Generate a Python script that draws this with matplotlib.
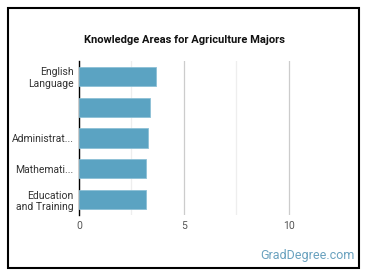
import numpy as np
import matplotlib.pyplot as plt
from matplotlib.patches import Rectangle

categories = ["English\nLanguage", "", "Administrat...", "Mathemati...", "Education\nand Training"]
values = [3.67, 3.38, 3.29, 3.19, 3.19]
xticks = [0, 5, 10]

W, H = 370, 278
fig = plt.figure(figsize=(W / 100, H / 100), dpi=100)
plt.rcParams['font.family'] = ['Roboto', 'DejaVu Sans']

# outer frame
fig.patches.append(Rectangle((8 / W, 1 - 268 / H), 351 / W, 260 / H, transform=fig.transFigure,
                             fill=False, edgecolor='black', linewidth=1.5))

ax = fig.add_axes([79 / W, 1 - 215 / H, (341 - 79) / W, (215 - 61) / H])
y = np.arange(len(categories))
ax.barh(y, values, height=0.62, color='#5ba3c2', edgecolor='#8cc0d6', linewidth=0.6, zorder=3)
ax.set_ylim(len(categories) - 0.5, -0.5)
ax.set_xlim(0, 12.5)
ax.set_yticks(y)
ax.set_yticklabels(categories, fontsize=7.5, color='#333333')
ax.set_xticks(xticks)
ax.set_xticklabels([str(t) for t in xticks], fontsize=7.5, color='#555555')
ax.set_xticks([2.5, 7.5], minor=True)
ax.grid(axis='x', which='major', color='#cccccc', linewidth=0.9, zorder=0)
ax.grid(axis='x', which='minor', color='#eeeeee', linewidth=0.9, zorder=0)
ax.tick_params(length=0, which='both', pad=4)
for s in ['top', 'right', 'bottom']:
    ax.spines[s].set_visible(False)
ax.spines['left'].set_color('black')
ax.spines['left'].set_linewidth(1)

fig.text(185 / W, 1 - 40 / H, "Knowledge Areas for Agriculture Majors", ha='center', va='center',
         fontsize=8, fontweight='bold', color='#111111')
fig.text(355 / W, 1 - 255 / H, "GradDegree.com", ha='right', va='center',
         fontsize=9, color='#6aa2bf')

fig.savefig("out.png", dpi=100)
